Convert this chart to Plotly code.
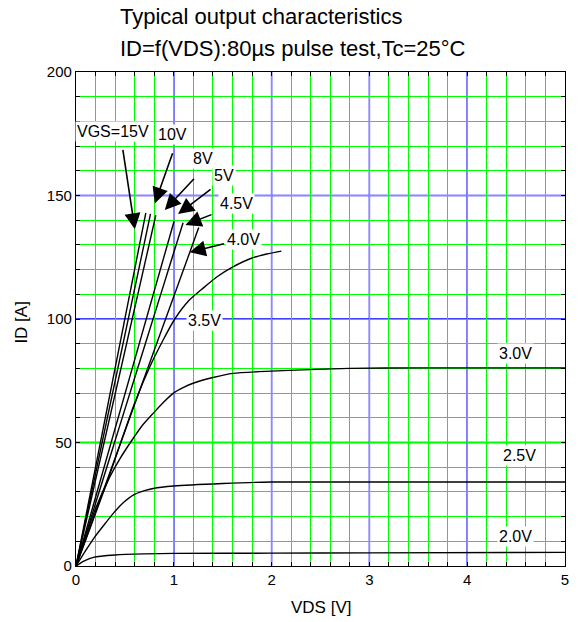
import plotly.graph_objects as go

# ---- data ----
vgs_labels = ["15V", "10V", "8V", "5V", "4.5V", "4.0V", "3.5V", "3.0V", "2.5V", "2.0V"]

v_15 = [0, 0.714]
i_15 = [0, 143.0]
v_10 = [0, 0.762]
i_10 = [0, 142.6]
v_8 = [0, 0.816]
i_8 = [0, 142.0]
v_5 = [0, 1.003]
i_5 = [0, 139.6]
v_45 = [0, 1.095]
i_45 = [0, 139.0]
v_40 = [0, 1.255]
i_40 = [0, 137.0]
v_35 = [0, 0.3, 0.6, 0.755, 0.891, 1.01, 1.15, 1.3, 1.45, 1.6, 1.8, 1.95, 2.1]
i_35 = [0, 32, 66, 80.7, 91.5, 100.0, 107.3, 112.5, 117.3, 121.0, 124.7, 126.3, 127.5]
v_30 = [0, 0.1, 0.194, 0.347, 0.45, 0.551, 0.67, 0.789, 0.9, 0.993, 1.1, 1.197, 1.4, 1.605, 2.116, 2.796, 3.5, 5.0]
i_30 = [0, 12.0, 22.7, 36.2, 43.5, 49.7, 56.5, 61.8, 66.5, 69.9, 72.3, 74.0, 76.3, 78.0, 79.1, 80.0, 80.2, 80.2]
v_25 = [0, 0.1, 0.194, 0.3, 0.381, 0.48, 0.585, 0.7, 0.789, 1.0, 1.5, 2.0, 3.0, 5.0]
i_25 = [0, 6.3, 11.9, 17.3, 21.3, 25.5, 28.7, 30.5, 31.4, 32.4, 33.4, 34.0, 34.0, 34.0]
v_20 = [0, 0.08, 0.177, 0.4, 0.7, 1.0, 2.0, 3.0, 5.0]
i_20 = [0, 2.0, 3.5, 4.45, 4.9, 5.1, 5.2, 5.3, 5.5]

curves = [(v_15, i_15), (v_10, i_10), (v_8, i_8), (v_5, i_5), (v_45, i_45),
          (v_40, i_40), (v_35, i_35), (v_30, i_30), (v_25, i_25), (v_20, i_20)]

# label text, text position (V, I)
label_text = ["VGS=15V", "10V", "8V", "5V", "4.5V", "4.0V", "3.5V", "3.0V", "2.5V", "2.0V"]
label_v = [0.378, 0.99, 1.296, 1.51, 1.64, 1.714, 1.316, 4.497, 4.531, 4.49]
label_i = [176.1, 174.9, 164.8, 158.0, 146.6, 132.3, 99.3, 86.1, 44.9, 12.1]

# arrows: tail (V, I) -> tip (V, I)
arrow_tail_v = [0.477, 0.993, 1.221, 1.391, 1.401, 1.528]
arrow_tail_i = [169.1, 167.7, 157.4, 152.9, 142.5, 130.6]
arrow_tip_v = [0.602, 0.806, 0.908, 1.044, 1.119, 1.163]
arrow_tip_i = [136.3, 146.8, 144.1, 142.5, 138.1, 127.0]

# axis ticks: every minor step is a tick/grid line, labels on majors
x_tick_vals = [0, 0.2, 0.4, 0.6, 0.8, 1, 1.2, 1.4, 1.6, 1.8, 2, 2.2, 2.4, 2.6, 2.8, 3,
               3.2, 3.4, 3.6, 3.8, 4, 4.2, 4.4, 4.6, 4.8, 5]
x_major = [0, 1, 2, 3, 4, 5]
y_tick_vals = [0, 10, 20, 30, 40, 50, 60, 70, 80, 90, 100, 110, 120, 130, 140, 150,
               160, 170, 180, 190, 200]
y_major = [0, 50, 100, 150, 200]

FONT = "Liberation Sans, Arial, sans-serif"
W, H = 581, 622
ML, MR, MT, MB = 76, 14, 72, 56

fig = go.Figure()
for (vx, iy), name in zip(curves, vgs_labels):
    fig.add_trace(go.Scatter(x=vx, y=iy, mode="lines", name=name,
                             line=dict(color="black", width=1.4, shape="spline", smoothing=0.6),
                             showlegend=False, hoverinfo="skip"))

# blue major grid lines above the green minor ones
for v in x_major[1:-1]:
    fig.add_shape(type="line", xref="x", yref="paper", x0=v, x1=v, y0=0, y1=1,
                  line=dict(color="#0000ff", width=1.4), layer="between")
for v in y_major[1:-1]:
    fig.add_shape(type="line", xref="paper", yref="y", x0=0, x1=1, y0=v, y1=v,
                  line=dict(color="#0000ff", width=1.4), layer="between")

for t, vx, iy in zip(label_text, label_v, label_i):
    fig.add_annotation(x=vx, y=iy, xref="x", yref="y", text=t, showarrow=False,
                       font=dict(family=FONT, size=16, color="black"),
                       bgcolor="white", borderpad=1)
for tv, ti, hv, hi in zip(arrow_tail_v, arrow_tail_i, arrow_tip_v, arrow_tip_i):
    fig.add_annotation(x=hv, y=hi, ax=tv, ay=ti, xref="x", yref="y", axref="x", ayref="y",
                       text="", showarrow=True, arrowhead=2, arrowsize=2.0,
                       arrowwidth=1.6, arrowcolor="black", standoff=0, startstandoff=0)

pw, ph = W - ML - MR, H - MT - MB
def px2paper(px, py):
    return (px - ML) / pw, (H - MB - py) / ph

tx, ty1 = px2paper(118, 17)
_, ty2 = px2paper(118, 48.5)
fig.add_annotation(x=tx, y=ty1, xref="paper", yref="paper", xanchor="left", yanchor="middle",
                   text="Typical output characteristics", showarrow=False,
                   font=dict(family=FONT, size=22, color="black"))
fig.add_annotation(x=tx, y=ty2, xref="paper", yref="paper", xanchor="left", yanchor="middle",
                   text="ID=f(VDS):80µs pulse test,Tc=25°C", showarrow=False,
                   font=dict(family=FONT, size=22, color="black"))
ax_x, ax_y = px2paper(321.7, 607)
fig.add_annotation(x=ax_x, y=ax_y, xref="paper", yref="paper", xanchor="center", yanchor="middle",
                   text="VDS [V]", showarrow=False, font=dict(family=FONT, size=17, color="black"))
ay_x, ay_y = px2paper(21.7, 321.7)
fig.add_annotation(x=ay_x, y=ay_y, xref="paper", yref="paper", xanchor="center", yanchor="middle",
                   text="ID [A]", showarrow=False, textangle=-90,
                   font=dict(family=FONT, size=17, color="black"))

fig.update_layout(
    width=W, height=H, autosize=False,
    margin=dict(l=ML, r=MR, t=MT, b=MB),
    paper_bgcolor="white", plot_bgcolor="white",
    font=dict(family=FONT, size=15, color="black"),
)

fig.update_xaxes(range=[0, 5], tickmode="array", tickvals=x_tick_vals,
                 ticktext=[(str(int(v)) if v in x_major else "") for v in x_tick_vals],
                 showgrid=True, gridcolor="#00ff00", gridwidth=1.2,
                 ticks="inside", ticklen=4, tickcolor="black",
                 showline=True, linecolor="black", linewidth=1.2, mirror="ticks",
                 zeroline=False, tickfont=dict(size=15))
fig.update_yaxes(range=[0, 200], tickmode="array", tickvals=y_tick_vals,
                 ticktext=[(str(v) if v in y_major else "") for v in y_tick_vals],
                 showgrid=True, gridcolor="#00ff00", gridwidth=1.2,
                 ticks="inside", ticklen=4, tickcolor="black",
                 showline=True, linecolor="black", linewidth=1.2, mirror="ticks",
                 zeroline=False, tickfont=dict(size=15))

fig.write_html("out.html", config={"displayModeBar": False},
               post_script="document.body.style.margin='0';document.body.style.padding='0';")
